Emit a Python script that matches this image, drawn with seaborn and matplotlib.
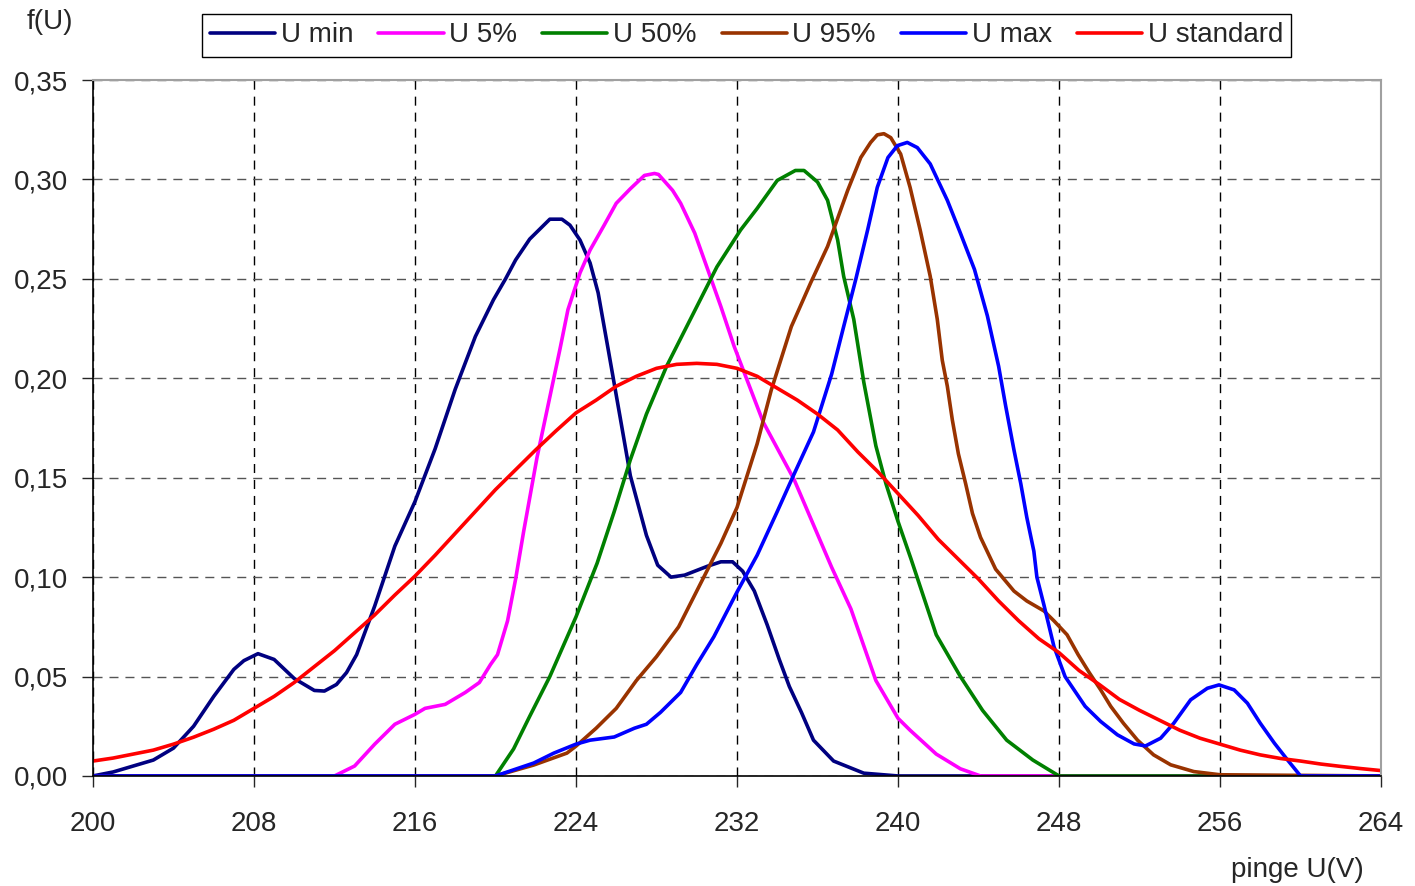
import pandas as pd
import seaborn as sns
import matplotlib.pyplot as plt

# points (x in V, y = f(U))
umin_x = [200, 201, 202, 203, 204, 205, 206, 207, 207.5, 208.2, 209, 210, 211, 211.5,
          212.1, 212.6, 213.1, 214, 215, 216, 217, 218, 219, 219.9, 220.5, 221, 221.7,
          222.7, 223.3, 223.7, 224.2, 224.7, 225.1, 225.6, 226.2, 226.7, 227.5, 228.06,
          228.72, 229.4, 230.54, 231.2, 231.78, 232.28, 232.86, 233.5, 234.1, 234.6,
          235.2, 235.8, 236.8, 238.3, 240, 264]
umin_y = [0, 0.002, 0.005, 0.008, 0.014, 0.025, 0.040, 0.0536, 0.058, 0.0615, 0.0586,
          0.049, 0.043, 0.0427, 0.046, 0.052, 0.061, 0.0855, 0.1156, 0.138, 0.1645,
          0.1945, 0.221, 0.2395, 0.250, 0.2595, 0.270, 0.280, 0.280, 0.277, 0.2695,
          0.258, 0.243, 0.2145, 0.180, 0.151, 0.121, 0.106, 0.100, 0.101, 0.1055, 0.1077,
          0.1077, 0.103, 0.093, 0.076, 0.0586, 0.045, 0.032, 0.018, 0.0075, 0.0014, 0, 0]

u5_x = [200, 212, 213, 214, 215, 216, 216.5, 217.5, 218.5, 219.2, 219.75, 220.1, 220.6,
        221, 221.4, 222.06, 223.2, 223.6, 224.2, 224.7, 225.4, 226.0, 226.7, 227.4,
        227.9, 228.1, 228.8, 229.2, 229.9, 230.5, 231.2, 231.86, 233.3, 234.84, 236.7,
        237.66, 238.9, 240, 240.6, 241.9, 243.1, 244.1, 264]
u5_y = [0, 0, 0.005, 0.016, 0.026, 0.031, 0.034, 0.036, 0.042, 0.047, 0.056, 0.061,
        0.078, 0.099, 0.123, 0.160, 0.2145, 0.2345, 0.253, 0.2645, 0.277, 0.288, 0.2953,
        0.302, 0.303, 0.3025, 0.2945, 0.288, 0.273, 0.256, 0.236, 0.216, 0.178, 0.149,
        0.105, 0.084, 0.048, 0.029, 0.023, 0.011, 0.0036, 0, 0]

u50_x = [200, 220, 220.9, 221.7, 222.7, 224, 225.05, 225.9, 226.7, 227.5, 228.5, 230.0,
         231.0, 232.18, 233.0, 234.0, 234.9, 235.33, 236.0, 236.5, 237.0, 237.3, 237.8,
         238.3, 238.9, 239.4, 240, 240.65, 241.9, 243.1, 244.2, 245.4, 246.7, 248, 264]
u50_y = [0, 0, 0.0136, 0.030, 0.050, 0.080, 0.107, 0.133, 0.159, 0.182, 0.206, 0.236,
         0.256, 0.2746, 0.2854, 0.2995, 0.3045, 0.3045, 0.2987, 0.2895, 0.2696, 0.2513,
         0.2297, 0.198, 0.166, 0.147, 0.128, 0.109, 0.071, 0.050, 0.033, 0.018, 0.008, 0, 0]

u95_x = [200, 220, 221.9, 223.55, 224, 225, 226, 227, 228, 229.1, 230.5, 231.2, 232, 233,
         233.7, 234.7, 235.66, 236.5, 237.5, 238.15, 238.64, 238.97, 239.3, 239.64,
         240.13, 240.6, 241.1, 241.6, 241.95, 242.2, 242.45, 242.7, 243.0, 243.36, 243.7,
         244.1, 244.85, 245.76, 246.4, 247.25, 247.75, 248.4, 248.95, 249.5, 250.07,
         250.57, 251.2, 251.9, 252.7, 253.55, 254.7, 256, 264]
u95_y = [0, 0, 0.0055, 0.0115, 0.015, 0.024, 0.034, 0.048, 0.060, 0.075, 0.103, 0.117,
         0.135, 0.167, 0.194, 0.226, 0.248, 0.2663, 0.2945, 0.311, 0.3186, 0.3224, 0.323,
         0.321, 0.3128, 0.296, 0.2746, 0.2513, 0.2297, 0.209, 0.196, 0.179, 0.162, 0.147,
         0.132, 0.120, 0.104, 0.093, 0.088, 0.083, 0.078, 0.071, 0.061, 0.052, 0.0433,
         0.035, 0.0265, 0.018, 0.0106, 0.0056, 0.0022, 0.0006, 0]

umax_x = [200, 220, 221.9, 222.9, 224, 224.7, 225.9, 226.9, 227.5, 228.2, 229.2, 230,
          230.85, 232, 233, 234, 234.8, 235.8, 236.7, 237.3, 237.9, 238.5, 238.97, 239.5,
          239.97, 240.46, 240.96, 241.6, 242.45, 243.1, 243.8, 244.44, 245.0, 245.35,
          245.76, 246.1, 246.4, 246.75, 246.9, 247.25, 247.75, 248.3, 249.3, 250.07, 250.9,
          251.73, 252.3, 253.05, 253.7, 254.54, 255.37, 255.95, 256.7, 257.36, 258.0,
          258.7, 259.35, 260.0, 264]
umax_y = [0, 0, 0.0065, 0.0115, 0.016, 0.018, 0.0196, 0.024, 0.026, 0.032, 0.042, 0.056,
          0.070, 0.0925, 0.111, 0.133, 0.151, 0.173, 0.202, 0.2260, 0.2497, 0.275, 0.296,
          0.311, 0.317, 0.3186, 0.316, 0.3078, 0.2895, 0.273, 0.2547, 0.2314, 0.206,
          0.186, 0.164, 0.147, 0.130, 0.113, 0.100, 0.086, 0.065, 0.050, 0.035, 0.0274,
          0.0207, 0.0161, 0.0151, 0.019, 0.0265, 0.0383, 0.0441, 0.0458, 0.0433, 0.0366,
          0.0265, 0.0165, 0.0081, 0, 0]

ustd_x = list(range(200, 265))
ustd_y = [0.0075, 0.009, 0.011, 0.013, 0.016, 0.0195, 0.0235, 0.028, 0.034, 0.040,
          0.047, 0.055, 0.063, 0.072, 0.081, 0.091, 0.1005, 0.111, 0.122, 0.133,
          0.144, 0.154, 0.164, 0.1735, 0.1826, 0.189, 0.196, 0.201, 0.205, 0.207,
          0.2075, 0.207, 0.205, 0.201, 0.195, 0.189, 0.182, 0.174, 0.163, 0.153,
          0.142, 0.131, 0.119, 0.109, 0.099, 0.088, 0.078, 0.069, 0.062, 0.053,
          0.046, 0.0385, 0.033, 0.028, 0.023, 0.019, 0.016, 0.013, 0.0106, 0.0088,
          0.0075, 0.006, 0.0048, 0.0037, 0.0027]

series_names = ['U min', 'U 5%', 'U 50%', 'U 95%', 'U max', 'U standard']
colors = ['#000080', '#ff00ff', '#008000', '#993300', '#0000ff', '#ff0000']

x_ticks = [200, 208, 216, 224, 232, 240, 248, 256, 264]
y_ticks = [0.0, 0.05, 0.10, 0.15, 0.20, 0.25, 0.30, 0.35]
y_tick_labels = ['0,00', '0,05', '0,10', '0,15', '0,20', '0,25', '0,30', '0,35']

pairs = [(umin_x, umin_y), (u5_x, u5_y), (u50_x, u50_y),
         (u95_x, u95_y), (umax_x, umax_y), (ustd_x, ustd_y)]
frames = []
for name, (xs, ys) in zip(series_names, pairs):
    frames.append(pd.DataFrame({'U': xs, 'f': ys, 'series': name}))
long = pd.concat(frames, ignore_index=True)

sns.set_style('white')
plt.rcParams['font.family'] = ['Liberation Sans', 'DejaVu Sans']

fig = plt.figure(figsize=(14.15, 8.86), dpi=100)
ax = fig.add_axes([0.0657, 0.1242, 0.9103, 0.7855])

sns.lineplot(data=long, x='U', y='f', hue='series', hue_order=series_names,
             palette=colors, linewidth=2.6, ax=ax, legend=True, estimator=None)

ax.set_xlim(200, 264)
ax.set_ylim(0, 0.35)
ax.set_xticks(x_ticks)
ax.set_xticklabels([str(t) for t in x_ticks])
ax.set_yticks(y_ticks)
ax.set_yticklabels(y_tick_labels)
ax.tick_params(axis='x', direction='out', length=8, width=1, pad=17, labelsize=20, bottom=True)
ax.tick_params(axis='y', direction='out', length=8, width=1, pad=10, labelsize=20, left=True)
ax.set_xlabel('')
ax.set_ylabel('')

ax.xaxis.grid(True, color='black', linestyle=(0, (6.5, 5)), linewidth=1.0)
ax.yaxis.grid(True, color='#555555', linestyle=(0, (6.5, 5)), linewidth=1.0)
ax.set_axisbelow(True)

for side in ['left', 'bottom']:
    ax.spines[side].set_color('black')
    ax.spines[side].set_linewidth(1.2)
for side in ['top', 'right']:
    ax.spines[side].set_color('#a0a0a0')
    ax.spines[side].set_linewidth(1.5)

handles, labels = ax.get_legend_handles_labels()
for h in handles:
    h.set_linewidth(2.6)
leg = ax.legend(handles, labels, loc='center', bbox_to_anchor=(0.5276, 0.96),
                bbox_transform=fig.transFigure, ncol=6, fontsize=20, frameon=True,
                fancybox=False, edgecolor='black', handlelength=2.35, handletextpad=0.2,
                columnspacing=0.9, borderpad=0.3, framealpha=1)
leg.get_frame().set_linewidth(1.0)

fig.text(0.035, 0.975, 'f(U)', fontsize=20, ha='center', va='center')
fig.text(0.917, 0.018, 'pinge U(V)', fontsize=20, ha='center', va='center')

fig.savefig('out.png', dpi=100)
